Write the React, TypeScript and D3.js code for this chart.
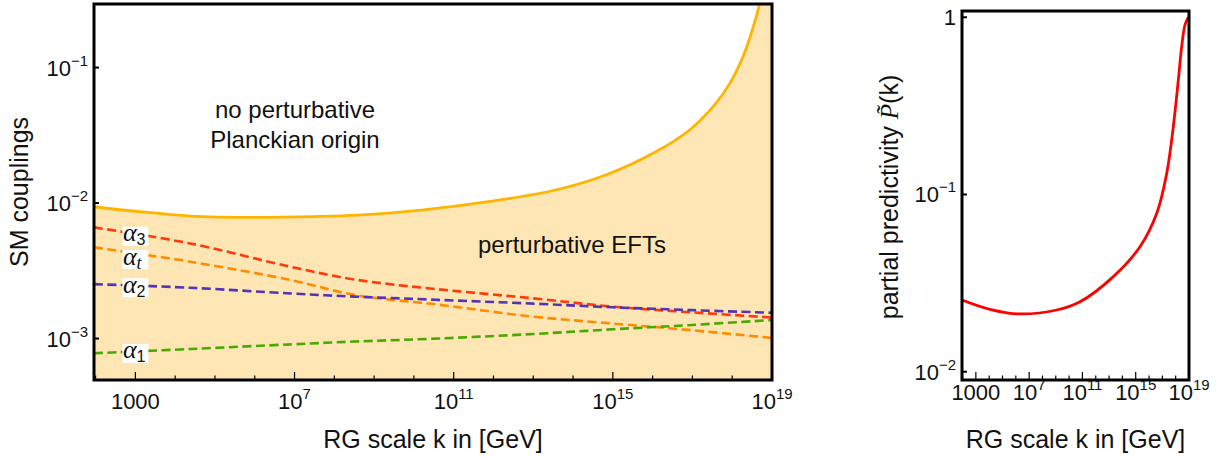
import { useEffect, useRef } from 'react';
import * as d3 from 'd3';

// log10(k / GeV) grids and values
const boundaryLogK = [1.96, 3, 4.38, 6.08, 7.5, 8.6, 10.19, 11.87, 13.56, 14.82, 16.08, 16.93, 17.52, 17.94, 18.27, 18.53, 18.74, 18.9, 19.0];
const boundary = [0.00939, 0.0087, 0.00802, 0.00784, 0.00795, 0.00815, 0.00888, 0.01023, 0.01248, 0.0161, 0.0239, 0.0346, 0.0514, 0.0764, 0.12, 0.2, 0.334, 0.5, 1.0];

const couplingLogK = [1.96, 4.38, 6.91, 8.5, 10.6, 13.0, 15.0, 17.0, 19.0];
const alpha3 = [0.00662, 0.00503, 0.00338, 0.00273, 0.00231, 0.00198, 0.00172, 0.00156, 0.00143];
const alphaT = [0.00471, 0.00369, 0.0027, 0.0021, 0.00178, 0.00145, 0.00129, 0.00115, 0.00101];
const alpha2 = [0.00252, 0.00237, 0.00215, 0.00204, 0.00193, 0.00181, 0.0017, 0.00162, 0.00155];
const alpha1 = [0.000778, 0.000837, 0.000906, 0.00095, 0.001, 0.00108, 0.00117, 0.00126, 0.00137];

const predLogK = [1.96, 4.06, 6.16, 9.07, 10.82, 13.32, 15.32, 16.58, 17.33, 17.82, 18.2, 18.45, 18.7, 18.95];
const predictivity = [0.0254, 0.0225, 0.0212, 0.0223, 0.0248, 0.0344, 0.0507, 0.0783, 0.132, 0.241, 0.443, 0.683, 0.905, 1.0];

const xTickExps = [3, 7, 11, 15, 19];
const xTickLabels = ['1000', '7', '11', '15', '19'];
const leftYExps = [-3, -2, -1];
const leftYLabels = ['\u22123', '\u22122', '\u22121'];
const rightYExps = [-2, -1, 0];
const rightYLabels = ['\u22122', '\u22121', '1'];

const couplings = [
  { values: alpha3, color: '#ff3a0a', sub: '3', subItalic: false, dy: 2 },
  { values: alphaT, color: '#ff8c00', sub: 't', subItalic: true, dy: 6 },
  { values: alpha2, color: '#5533b8', sub: '2', subItalic: false, dy: 2 },
  { values: alpha1, color: '#4aa800', sub: '1', subItalic: false, dy: 2 },
];

const SANS = '"Liberation Sans", Arial, Helvetica, sans-serif';
const SERIF = '"Liberation Serif", "Times New Roman", serif';

export default function App() {
  const svgRef = useRef<SVGSVGElement>(null);

  useEffect(() => {
    if (!svgRef.current) return;
    const svg = d3.select(svgRef.current);
    svg.selectAll('*').remove();

    const L = { x0: 94, x1: 772, y0: 4, y1: 380 };
    const R = { x0: 962, x1: 1189, y0: 11, y1: 380 };

    const xL = d3.scaleLog().domain([10 ** 1.96, 1e19]).range([L.x0, L.x1]);
    const yL = d3.scaleLog().domain([10 ** -3.306, 10 ** -0.531]).range([L.y1, L.y0]);
    const xR = d3.scaleLog().domain([10 ** 1.96, 1e19]).range([R.x0, R.x1]);
    const yR = d3.scaleLog().domain([0.00898, 1.085]).range([R.y1, R.y0]);

    const smooth = d3.curveCatmullRom.alpha(0.5);

    const defs = svg.append('defs');
    defs.append('clipPath').attr('id', 'clipL')
      .append('rect').attr('x', L.x0).attr('y', L.y0)
      .attr('width', L.x1 - L.x0).attr('height', L.y1 - L.y0);
    defs.append('clipPath').attr('id', 'clipR')
      .append('rect').attr('x', R.x0).attr('y', R.y0)
      .attr('width', R.x1 - R.x0).attr('height', R.y1 - R.y0);

    // ---------- left panel ----------
    const gL = svg.append('g').attr('clip-path', 'url(#clipL)');

    const bPts = boundaryLogK.map((lk, i) => [lk, boundary[i]] as [number, number]);
    const area = d3.area<[number, number]>()
      .x(d => xL(10 ** d[0]))
      .y0(L.y1)
      .y1(d => yL(d[1]))
      .curve(smooth);
    gL.append('path').attr('d', area(bPts) as string).attr('fill', '#fde6b4');

    const lineL = d3.line<[number, number]>()
      .x(d => xL(10 ** d[0]))
      .y(d => yL(d[1]))
      .curve(smooth);

    couplings.forEach(c => {
      const pts = couplingLogK.map((lk, i) => [lk, c.values[i]] as [number, number]);
      gL.append('path')
        .attr('d', lineL(pts) as string)
        .attr('fill', 'none')
        .attr('stroke', c.color)
        .attr('stroke-width', 2.6)
        .attr('stroke-dasharray', '9,4.5');
    });

    gL.append('path')
      .attr('d', lineL(bPts) as string)
      .attr('fill', 'none')
      .attr('stroke', '#ffb400')
      .attr('stroke-width', 2.8);

    // coupling labels at k = 1000 GeV
    couplings.forEach(c => {
      const interp = d3.scaleLinear()
        .domain(couplingLogK)
        .range(c.values.map(v => Math.log10(v)));
      const cx = xL(1e3);
      const cy = yL(10 ** interp(3)) + c.dy;
      gL.append('rect')
        .attr('x', cx - 13).attr('y', cy - 9.5)
        .attr('width', 26).attr('height', 19)
        .attr('fill', '#fff');
      const t = gL.append('text')
        .attr('x', cx - 12.5).attr('y', cy + 5)
        .attr('fill', '#111');
      t.append('tspan')
        .attr('font-family', SERIF).attr('font-style', 'italic').attr('font-size', 26)
        .text('\u03b1');
      t.append('tspan')
        .attr('dy', 4)
        .attr('font-family', c.subItalic ? SERIF : SANS)
        .attr('font-style', c.subItalic ? 'italic' : 'normal')
        .attr('font-size', c.subItalic ? 18 : 16)
        .text(c.sub);
    });

    // annotations
    const ann = svg.append('g').attr('font-family', SANS).attr('font-size', 24)
      .attr('fill', '#111').attr('text-anchor', 'middle');
    ann.append('text').attr('x', 295).attr('y', 118).text('no perturbative');
    ann.append('text').attr('x', 295).attr('y', 148).text('Planckian origin');
    ann.append('text').attr('x', 572).attr('y', 253).text('perturbative EFTs');

    // ---------- right panel ----------
    const gR = svg.append('g').attr('clip-path', 'url(#clipR)');
    const lineR = d3.line<[number, number]>()
      .x(d => xR(10 ** d[0]))
      .y(d => yR(d[1]))
      .curve(smooth);
    const pPts = predLogK.map((lk, i) => [lk, predictivity[i]] as [number, number]);
    gR.append('path')
      .attr('d', lineR(pPts) as string)
      .attr('fill', 'none')
      .attr('stroke', '#ff0000')
      .attr('stroke-width', 2.8);

    // ---------- frames, ticks, labels ----------
    const drawFrame = (
      P: { x0: number; x1: number; y0: number; y1: number },
      x: d3.ScaleLogarithmic<number, number>,
      y: d3.ScaleLogarithmic<number, number>,
      yExps: number[],
      yLabels: string[],
      xLabelY: number,
    ) => {
      const g = svg.append('g');
      // x ticks: every decade, majors every 4 decades
      d3.range(2, 20).forEach(e => {
        const major = xTickExps.includes(e);
        g.append('line')
          .attr('x1', x(10 ** e)).attr('x2', x(10 ** e))
          .attr('y1', P.y1).attr('y2', P.y1 - (major ? 8 : 4.5))
          .attr('stroke', '#000').attr('stroke-width', 1.2);
      });
      xTickExps.forEach((e, i) => {
        const t = g.append('text')
          .attr('x', x(10 ** e)).attr('y', xLabelY)
          .attr('text-anchor', 'middle')
          .attr('font-family', SANS).attr('font-size', 22).attr('fill', '#111');
        if (e === 3) {
          t.text(xTickLabels[i]);
        } else {
          t.append('tspan').text('10');
          t.append('tspan').attr('dy', -10).attr('font-size', 15).text(xTickLabels[i]);
        }
      });
      yExps.forEach((e, i) => {
        g.append('line')
          .attr('x1', P.x0).attr('x2', P.x0 + 5)
          .attr('y1', y(10 ** e)).attr('y2', y(10 ** e))
          .attr('stroke', '#000').attr('stroke-width', 2);
        const t = g.append('text')
          .attr('x', P.x0 - 6).attr('y', y(10 ** e) + 8)
          .attr('text-anchor', 'end')
          .attr('font-family', SANS).attr('font-size', 22).attr('fill', '#111');
        if (e === 0) {
          t.text(yLabels[i]);
        } else {
          t.append('tspan').text('10');
          t.append('tspan').attr('dy', -10).attr('font-size', 15).text(yLabels[i]);
        }
      });
      g.append('rect')
        .attr('x', P.x0).attr('y', P.y0)
        .attr('width', P.x1 - P.x0).attr('height', P.y1 - P.y0)
        .attr('fill', 'none').attr('stroke', '#000').attr('stroke-width', 3);
      g.append('text')
        .attr('x', (P.x0 + P.x1) / 2).attr('y', 448)
        .attr('text-anchor', 'middle')
        .attr('font-family', SANS).attr('font-size', 25).attr('fill', '#111')
        .text('RG scale k in [GeV]');
    };

    drawFrame(L, xL, yL, leftYExps, leftYLabels, 409);
    drawFrame(R, xR, yR, rightYExps, rightYLabels, 400);

    // y axis titles
    svg.append('text')
      .attr('transform', 'translate(28,192) rotate(-90)')
      .attr('text-anchor', 'middle')
      .attr('font-family', SANS).attr('font-size', 25).attr('fill', '#111')
      .text('SM couplings');

    const yt = svg.append('text')
      .attr('transform', 'translate(898,197) rotate(-90)')
      .attr('text-anchor', 'middle')
      .attr('font-family', SANS).attr('font-size', 25).attr('fill', '#111');
    yt.append('tspan').text('partial predictivity ');
    yt.append('tspan').attr('font-family', SERIF).attr('font-style', 'italic').text('P\u0303');
    yt.append('tspan').text('(k)');
  }, []);

  return (
    <svg
      ref={svgRef}
      width={1222}
      height={459}
      style={{ position: 'absolute', left: 0, top: 0, background: '#fff' }}
    />
  );
}
